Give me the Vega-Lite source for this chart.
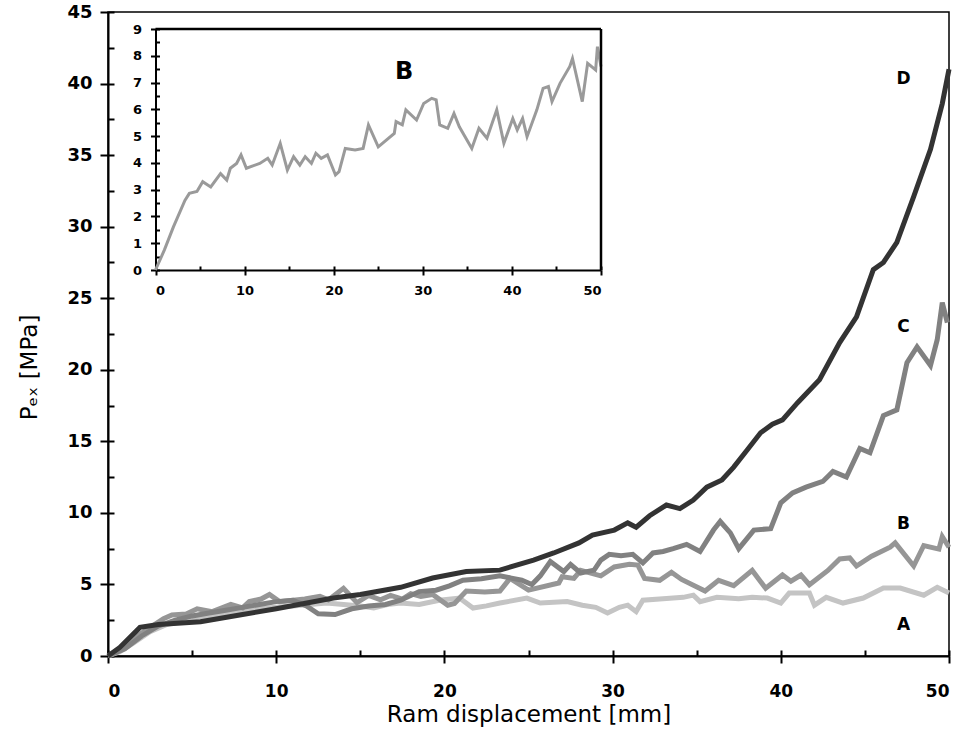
{
 "$schema": "https://vega.github.io/schema/vega-lite/v6.json",
 "width": 841,
 "height": 644,
 "autosize": {"type": "none"},
 "padding": {"left": 108, "top": 12, "right": 14, "bottom": 97},
 "background": "white",
 "config": {
  "view": {"stroke": "black", "strokeWidth": 1.5},
  "font": "DejaVu Sans",
  "axis": {"grid": false, "domainColor": "black", "tickColor": "black", "labelColor": "black", "titleColor": "black", "labelFont": "DejaVu Sans", "titleFont": "DejaVu Sans"}
 },
 "datasets": {
  "curves": [
   {"series":"A","x":0,"y":0},{"series":"A","x":0.7,"y":0.3},{"series":"A","x":1.5,"y":0.9},{"series":"A","x":2.5,"y":1.7},{"series":"A","x":3.5,"y":2.2},{"series":"A","x":5,"y":2.6},{"series":"A","x":6,"y":2.8},{"series":"A","x":7,"y":3.0},{"series":"A","x":8,"y":3.2},{"series":"A","x":9,"y":3.3},{"series":"A","x":10,"y":3.4},{"series":"A","x":11,"y":3.5},{"series":"A","x":12,"y":3.6},{"series":"A","x":13,"y":3.7},{"series":"A","x":14,"y":3.6},{"series":"A","x":15,"y":3.5},{"series":"A","x":15.8,"y":3.35},{"series":"A","x":16.6,"y":3.6},{"series":"A","x":17.4,"y":3.7},{"series":"A","x":18.5,"y":3.6},{"series":"A","x":19.7,"y":3.9},{"series":"A","x":20.9,"y":4.05},{"series":"A","x":21.7,"y":3.35},{"series":"A","x":22.5,"y":3.5},{"series":"A","x":23.3,"y":3.7},{"series":"A","x":24.9,"y":4.05},{"series":"A","x":25.7,"y":3.7},{"series":"A","x":27.3,"y":3.8},{"series":"A","x":28.2,"y":3.55},{"series":"A","x":29.0,"y":3.4},{"series":"A","x":29.7,"y":3.0},{"series":"A","x":30.4,"y":3.4},{"series":"A","x":30.9,"y":3.55},{"series":"A","x":31.4,"y":3.1},{"series":"A","x":31.8,"y":3.9},{"series":"A","x":33.0,"y":4.0},{"series":"A","x":34.2,"y":4.1},{"series":"A","x":34.8,"y":4.25},{"series":"A","x":35.2,"y":3.8},{"series":"A","x":36.2,"y":4.1},{"series":"A","x":37.5,"y":4.0},{"series":"A","x":38.3,"y":4.1},{"series":"A","x":39.2,"y":4.05},{"series":"A","x":40.0,"y":3.7},{"series":"A","x":40.5,"y":4.4},{"series":"A","x":41.7,"y":4.4},{"series":"A","x":42.0,"y":3.55},{"series":"A","x":42.7,"y":4.1},{"series":"A","x":43.7,"y":3.7},{"series":"A","x":44.9,"y":4.05},{"series":"A","x":46.1,"y":4.75},{"series":"A","x":47.1,"y":4.75},{"series":"A","x":48.5,"y":4.25},{"series":"A","x":49.3,"y":4.8},{"series":"A","x":50,"y":4.4},
   {"series":"B","x":0,"y":0},{"series":"B","x":1.0,"y":0.75},{"series":"B","x":2.0,"y":1.6},{"series":"B","x":3.3,"y":2.6},{"series":"B","x":3.8,"y":2.86},{"series":"B","x":4.65,"y":2.93},{"series":"B","x":5.3,"y":3.3},{"series":"B","x":6.2,"y":3.1},{"series":"B","x":7.3,"y":3.6},{"series":"B","x":8.0,"y":3.36},{"series":"B","x":8.4,"y":3.8},{"series":"B","x":9.1,"y":3.98},{"series":"B","x":9.6,"y":4.3},{"series":"B","x":10.2,"y":3.8},{"series":"B","x":11.7,"y":3.98},{"series":"B","x":12.6,"y":4.17},{"series":"B","x":13.1,"y":3.92},{"series":"B","x":14.0,"y":4.73},{"series":"B","x":14.8,"y":3.73},{"series":"B","x":15.5,"y":4.23},{"series":"B","x":16.2,"y":3.92},{"series":"B","x":16.8,"y":4.23},{"series":"B","x":17.5,"y":3.98},{"series":"B","x":18.0,"y":4.36},{"series":"B","x":18.6,"y":4.17},{"series":"B","x":19.3,"y":4.3},{"series":"B","x":20.2,"y":3.55},{"series":"B","x":20.6,"y":3.67},{"series":"B","x":21.3,"y":4.54},{"series":"B","x":22.4,"y":4.48},{"series":"B","x":23.3,"y":4.54},{"series":"B","x":23.9,"y":5.42},{"series":"B","x":25.0,"y":4.6},{"series":"B","x":26.8,"y":5.1},{"series":"B","x":27.0,"y":5.54},{"series":"B","x":27.7,"y":5.42},{"series":"B","x":28.1,"y":5.98},{"series":"B","x":29.3,"y":5.6},{"series":"B","x":30.1,"y":6.22},{"series":"B","x":31.0,"y":6.41},{"series":"B","x":31.5,"y":6.35},{"series":"B","x":31.9,"y":5.42},{"series":"B","x":32.8,"y":5.29},{"series":"B","x":33.5,"y":5.85},{"series":"B","x":34.1,"y":5.35},{"series":"B","x":35.5,"y":4.54},{"series":"B","x":36.3,"y":5.29},{"series":"B","x":37.2,"y":4.92},{"series":"B","x":38.3,"y":5.98},{"series":"B","x":39.1,"y":4.73},{"series":"B","x":40.1,"y":5.66},{"series":"B","x":40.6,"y":5.23},{"series":"B","x":41.2,"y":5.66},{"series":"B","x":41.7,"y":4.98},{"series":"B","x":42.8,"y":5.98},{"series":"B","x":43.5,"y":6.78},{"series":"B","x":44.1,"y":6.85},{"series":"B","x":44.5,"y":6.29},{"series":"B","x":45.4,"y":6.97},{"series":"B","x":46.5,"y":7.6},{"series":"B","x":46.8,"y":7.9},{"series":"B","x":47.9,"y":6.29},{"series":"B","x":48.5,"y":7.72},{"series":"B","x":49.4,"y":7.47},{"series":"B","x":49.6,"y":8.34},{"series":"B","x":50,"y":7.6},
   {"series":"C","x":0,"y":0},{"series":"C","x":1,"y":0.5},{"series":"C","x":2,"y":1.4},{"series":"C","x":3,"y":2.1},{"series":"C","x":4,"y":2.5},{"series":"C","x":5,"y":2.8},{"series":"C","x":6,"y":3.0},{"series":"C","x":7,"y":3.2},{"series":"C","x":8,"y":3.4},{"series":"C","x":9,"y":3.6},{"series":"C","x":10,"y":3.8},{"series":"C","x":11,"y":3.9},{"series":"C","x":11.8,"y":3.5},{"series":"C","x":12.5,"y":2.95},{"series":"C","x":13.5,"y":2.9},{"series":"C","x":14.5,"y":3.3},{"series":"C","x":15.5,"y":3.5},{"series":"C","x":16.5,"y":3.6},{"series":"C","x":17.4,"y":3.9},{"series":"C","x":18.5,"y":4.5},{"series":"C","x":19.5,"y":4.6},{"series":"C","x":20.3,"y":4.9},{"series":"C","x":21.1,"y":5.3},{"series":"C","x":22.2,"y":5.4},{"series":"C","x":23.3,"y":5.6},{"series":"C","x":24.6,"y":5.3},{"series":"C","x":25.2,"y":5.0},{"series":"C","x":25.7,"y":5.6},{"series":"C","x":26.3,"y":6.6},{"series":"C","x":27.1,"y":5.9},{"series":"C","x":27.5,"y":6.4},{"series":"C","x":28.1,"y":5.8},{"series":"C","x":28.9,"y":6.0},{"series":"C","x":29.3,"y":6.7},{"series":"C","x":29.8,"y":7.1},{"series":"C","x":30.5,"y":7.0},{"series":"C","x":31.2,"y":7.1},{"series":"C","x":31.8,"y":6.5},{"series":"C","x":32.4,"y":7.2},{"series":"C","x":33.0,"y":7.3},{"series":"C","x":33.6,"y":7.5},{"series":"C","x":34.4,"y":7.8},{"series":"C","x":35.2,"y":7.3},{"series":"C","x":36.0,"y":8.8},{"series":"C","x":36.4,"y":9.4},{"series":"C","x":37.0,"y":8.6},{"series":"C","x":37.5,"y":7.5},{"series":"C","x":38.4,"y":8.8},{"series":"C","x":39.4,"y":8.9},{"series":"C","x":40.0,"y":10.7},{"series":"C","x":40.7,"y":11.4},{"series":"C","x":41.5,"y":11.8},{"series":"C","x":42.5,"y":12.2},{"series":"C","x":43.1,"y":12.9},{"series":"C","x":43.9,"y":12.5},{"series":"C","x":44.7,"y":14.5},{"series":"C","x":45.3,"y":14.2},{"series":"C","x":46.1,"y":16.8},{"series":"C","x":46.9,"y":17.2},{"series":"C","x":47.5,"y":20.5},{"series":"C","x":48.1,"y":21.6},{"series":"C","x":48.9,"y":20.3},{"series":"C","x":49.3,"y":22.1},{"series":"C","x":49.6,"y":24.7},{"series":"C","x":49.9,"y":23.3},
   {"series":"D","x":0,"y":0},{"series":"D","x":0.7,"y":0.6},{"series":"D","x":1.9,"y":2.0},{"series":"D","x":3,"y":2.2},{"series":"D","x":5.5,"y":2.4},{"series":"D","x":8,"y":2.9},{"series":"D","x":10,"y":3.3},{"series":"D","x":13.4,"y":4.05},{"series":"D","x":15,"y":4.3},{"series":"D","x":17.4,"y":4.8},{"series":"D","x":19.3,"y":5.45},{"series":"D","x":21.3,"y":5.9},{"series":"D","x":23.3,"y":6.0},{"series":"D","x":25.3,"y":6.7},{"series":"D","x":26.5,"y":7.2},{"series":"D","x":28,"y":7.9},{"series":"D","x":28.8,"y":8.45},{"series":"D","x":30.1,"y":8.8},{"series":"D","x":30.9,"y":9.3},{"series":"D","x":31.4,"y":9.0},{"series":"D","x":32.2,"y":9.8},{"series":"D","x":33.2,"y":10.55},{"series":"D","x":34,"y":10.3},{"series":"D","x":34.8,"y":10.9},{"series":"D","x":35.6,"y":11.8},{"series":"D","x":36.5,"y":12.3},{"series":"D","x":37.2,"y":13.2},{"series":"D","x":38.0,"y":14.4},{"series":"D","x":38.8,"y":15.6},{"series":"D","x":39.5,"y":16.2},{"series":"D","x":40.1,"y":16.5},{"series":"D","x":41,"y":17.7},{"series":"D","x":42.3,"y":19.3},{"series":"D","x":43.5,"y":21.9},{"series":"D","x":44.5,"y":23.7},{"series":"D","x":45.5,"y":27.0},{"series":"D","x":46.1,"y":27.5},{"series":"D","x":46.9,"y":28.9},{"series":"D","x":47.9,"y":32.1},{"series":"D","x":48.9,"y":35.4},{"series":"D","x":49.6,"y":38.6},{"series":"D","x":50,"y":41}
  ],
  "labels": [
   {"x":47.3,"y":40.3,"label":"D"},
   {"x":47.3,"y":23.0,"label":"C"},
   {"x":47.3,"y":9.2,"label":"B"},
   {"x":47.3,"y":2.2,"label":"A"}
  ],
  "insetLabel": [
   {"x":27.9,"y":7.4,"label":"B"}
  ]
 },
 "layer": [
  {
   "layer": [
    {
     "data": {"name": "curves"},
     "mark": {"type": "line", "strokeWidth": 5, "clip": false},
     "encoding": {
      "x": {"field": "x", "type": "quantitative", "scale": {"domain": [0, 50], "nice": false, "zero": false},
       "axis": {"orient": "bottom", "values": [0, 10, 20, 30, 40, 50], "tickSize": 7, "tickWidth": 2, "domainWidth": 2, "labelFontSize": 17, "labelFontWeight": "bold", "labelPadding": 20, "title": "Ram displacement [mm]", "titleFontSize": 23, "titleFontWeight": "normal", "titleY": 58, "titleBaseline": "middle"}},
      "y": {"field": "y", "type": "quantitative", "scale": {"domain": [0, 45], "nice": false},
       "axis": {"orient": "left", "values": [0, 5, 10, 15, 20, 25, 30, 35, 40, 45], "tickSize": 8, "tickWidth": 2, "domainWidth": 2, "labelFontSize": 18, "labelFontWeight": "bold", "labelPadding": 8, "title": "Pₑₓ [MPa]", "titleFontSize": 23, "titleFontWeight": "normal", "titleX": -67, "titleY": 355}},
      "color": {"field": "series", "type": "nominal", "scale": {"domain": ["A", "B", "C", "D"], "range": ["#c4c4c4", "#969696", "#818181", "#333333"]}, "legend": null}
     }
    },
    {
     "data": {"name": "labels"},
     "mark": {"type": "text", "fontSize": 17, "fontWeight": "bold", "font": "DejaVu Sans", "color": "black", "align": "center", "baseline": "middle"},
     "encoding": {
      "x": {"field": "x", "type": "quantitative", "axis": {"orient": "bottom", "offset": -6, "values": [0, 5, 10, 15, 20, 25, 30, 35, 40, 45, 50], "tickSize": 6, "tickWidth": 2, "labels": false, "domain": false, "title": null}},
      "y": {"field": "y", "type": "quantitative", "axis": {"orient": "left", "offset": -6, "values": [0, 2.5, 5, 7.5, 10, 12.5, 15, 17.5, 20, 22.5, 25, 27.5, 30, 32.5, 35, 37.5, 40, 42.5, 45], "tickSize": 6, "tickWidth": 2, "labels": false, "domain": false, "title": null}},
      "text": {"field": "label"}
     }
    }
   ],
   "resolve": {"axis": {"x": "independent", "y": "independent"}}
  },
  {
   "layer": [
    {
     "data": {"name": "curves"},
     "transform": [{"filter": "datum.series === 'B'"}],
     "mark": {"type": "line", "strokeWidth": 3, "color": "#9a9a9a", "clip": false},
     "encoding": {
      "x": {"field": "x", "type": "quantitative", "scale": {"domain": [0, 50], "nice": false, "zero": false, "range": [47.5, 493]},
       "axis": {"orient": "bottom", "offset": -386, "values": [0, 10, 20, 30, 40, 50], "tickSize": 5, "tickWidth": 2, "domainWidth": 2, "labelFontSize": 13, "labelFontWeight": "bold", "labelPadding": 9, "title": null}},
      "y": {"field": "y", "type": "quantitative", "scale": {"domain": [0, 9], "nice": false, "range": [258, 17]},
       "axis": {"orient": "left", "offset": -47.5, "values": [0, 1, 2, 3, 4, 5, 6, 7, 8, 9], "tickSize": 5, "tickWidth": 2, "domainWidth": 2, "labelFontSize": 13, "labelFontWeight": "bold", "labelPadding": 9, "title": null}}
     }
    },
    {
     "data": {"name": "insetLabel"},
     "mark": {"type": "text", "fontSize": 24, "fontWeight": "bold", "font": "DejaVu Sans", "color": "black", "align": "center", "baseline": "middle"},
     "encoding": {
      "x": {"field": "x", "type": "quantitative", "axis": {"orient": "bottom", "offset": -390, "values": [0, 5, 10, 15, 20, 25, 30, 35, 40, 45, 50], "tickSize": 4, "tickWidth": 2, "labels": false, "domain": false, "title": null}},
      "y": {"field": "y", "type": "quantitative", "axis": {"orient": "left", "offset": -51.5, "values": [0, 0.5, 1, 1.5, 2, 2.5, 3, 3.5, 4, 4.5, 5, 5.5, 6, 6.5, 7, 7.5, 8, 8.5, 9], "tickSize": 4, "tickWidth": 2, "labels": false, "domain": false, "title": null}},
      "text": {"field": "label"}
     }
    },
    {
     "data": {"values": [{}]},
     "mark": {"type": "rule", "strokeWidth": 2.5, "color": "black"},
     "encoding": {
      "x": {"datum": 0, "type": "quantitative", "axis": null},
      "x2": {"datum": 50},
      "y": {"datum": 9, "type": "quantitative", "axis": null}
     }
    },
    {
     "data": {"values": [{}]},
     "mark": {"type": "rule", "strokeWidth": 2.5, "color": "black"},
     "encoding": {
      "x": {"datum": 50, "type": "quantitative", "axis": null},
      "y": {"datum": 0, "type": "quantitative", "axis": null},
      "y2": {"datum": 9}
     }
    }
   ],
   "resolve": {"axis": {"x": "independent", "y": "independent"}}
  }
 ],
 "resolve": {"scale": {"x": "independent", "y": "independent"}}
}
